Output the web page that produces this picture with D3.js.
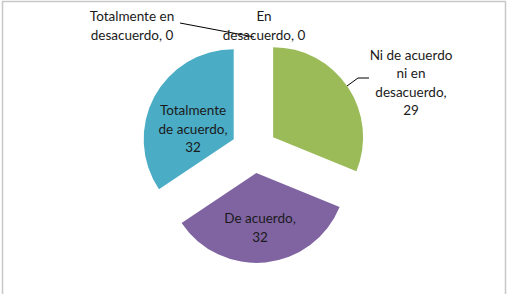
<!DOCTYPE html>
<html>
<head>
<meta charset="utf-8">
<script src="https://cdn.jsdelivr.net/npm/d3@7"></script>
<style>
  body { margin: 0; background: #fff; }
  svg text { font-family: Lato, "Open Sans", sans-serif; font-size: 13.5px; fill: #1a1a1a; }
</style>
</head>
<body>
<svg id="pie-svg" width="509" height="294"></svg>
<script>
// data
const categories = ["Totalmente en desacuerdo", "En desacuerdo", "Ni de acuerdo ni en desacuerdo", "De acuerdo", "Totalmente de acuerdo"];
const values = [0, 0, 29, 32, 32];
const colors = ["#4F81BD", "#C0504D", "#9BBB59", "#8064A2", "#4BACC6"];
// label lines as they wrap in the chart
const labelLines = [
  ["Totalmente en", "desacuerdo, 0"],
  ["En", "desacuerdo, 0"],
  ["Ni de acuerdo", "ni en", "desacuerdo,", "29"],
  ["De acuerdo,", "32"],
  ["Totalmente", "de acuerdo,", "32"]
];

const width = 509, height = 294;
const cx = 254, cy = 150;
const radius = 90;
const explode = 23;

const svg = d3.select("#pie-svg");

// chart border (top, left, right)
svg.append("path")
  .attr("d", `M2.5,${height} V1.5 H505.5 V${height}`)
  .attr("fill", "none")
  .attr("stroke", "#c8c8c8")
  .attr("stroke-width", 1.5);

const pie = d3.pie().sort(null).value(d => d);
const arcs = pie(values);

const arc = d3.arc().innerRadius(0).outerRadius(radius);

function offset(d, dist) {
  const a = (d.startAngle + d.endAngle) / 2;
  return [Math.sin(a) * dist, -Math.cos(a) * dist];
}

const g = svg.append("g").attr("transform", `translate(${cx},${cy})`);

g.selectAll("path.slice")
  .data(arcs.filter(d => d.value > 0))
  .join("path")
  .attr("class", "slice")
  .attr("transform", d => `translate(${offset(d, explode)})`)
  .attr("d", arc)
  .attr("fill", d => colors[d.index]);

// label positions (centre of the text block)
const labelPos = [
  [132 - cx, 26 - cy],
  [264 - cx, 26 - cy],
  [411 - cx, 83 - cy],
  [260 - cx, 228 - cy],
  [193 - cx, 129 - cy]
];
const lineH = 18.5;

// leader lines
const top0 = offset(arcs[0], radius + explode);
g.append("path")
  .attr("d", d3.line()([[180 - cx, 23 - cy], top0]))
  .attr("fill", "none")
  .attr("stroke", "#000")
  .attr("stroke-width", 1);

const greenEdge = [347 - cx, 86 - cy];
g.append("path")
  .attr("d", d3.line()([greenEdge, [358 - cx, 78 - cy], [369 - cx, 78 - cy]]))
  .attr("fill", "none")
  .attr("stroke", "#000")
  .attr("stroke-width", 1);

const labels = g.selectAll("text.lbl")
  .data(arcs)
  .join("text")
  .attr("class", "lbl")
  .attr("text-anchor", "middle")
  .attr("transform", d => `translate(${labelPos[d.index]})`);

labels.selectAll("tspan")
  .data(d => labelLines[d.index].map((t, i, arr) => ({ t, i, n: arr.length })))
  .join("tspan")
  .attr("x", 0)
  .attr("y", d => (d.i - (d.n - 1) / 2) * lineH)
  .attr("dy", "0.35em")
  .text(d => d.t);
</script>
</body>
</html>
